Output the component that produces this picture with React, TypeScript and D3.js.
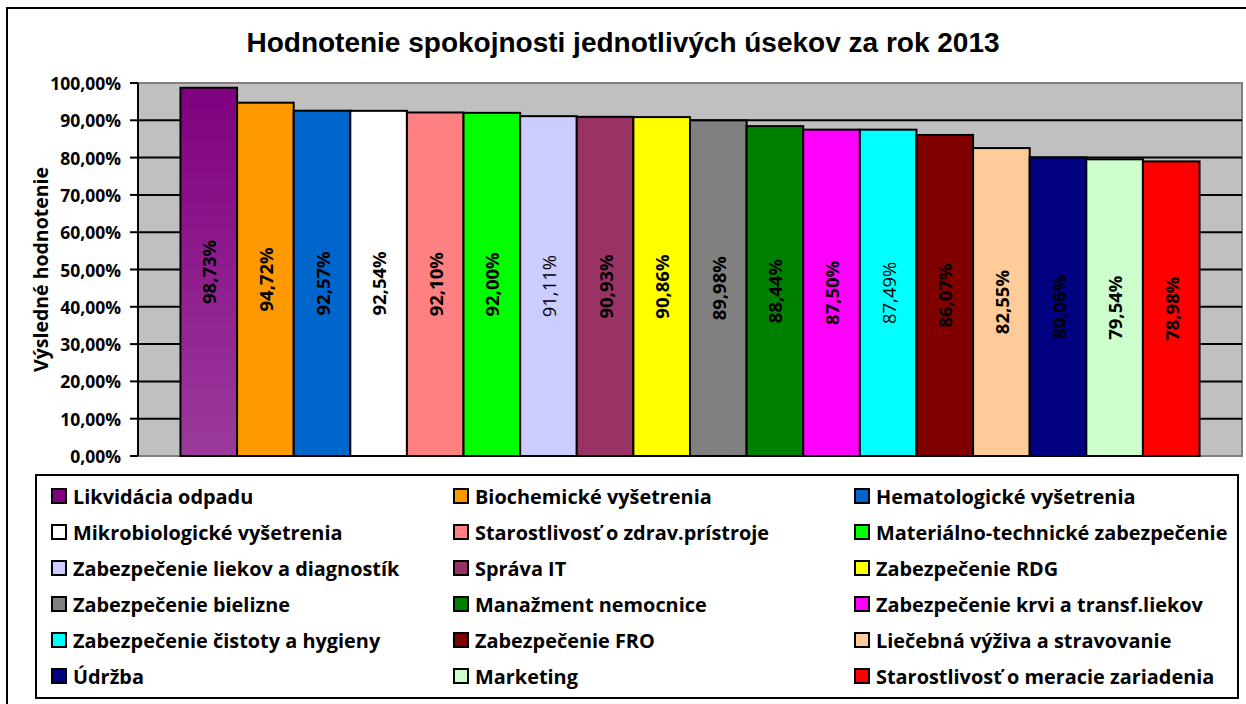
import React from 'react';
import * as d3 from 'd3';

const title = 'Hodnotenie spokojnosti jednotlivých úsekov za rok 2013';
const yAxisTitle = 'Výsledné hodnotenie';
const categories = [
  'Likvidácia odpadu',
  'Biochemické vyšetrenia',
  'Hematologické vyšetrenia',
  'Mikrobiologické vyšetrenia',
  'Starostlivosť o zdrav.prístroje',
  'Materiálno-technické zabezpečenie',
  'Zabezpečenie liekov a diagnostík',
  'Správa IT',
  'Zabezpečenie RDG',
  'Zabezpečenie bielizne',
  'Manažment nemocnice',
  'Zabezpečenie krvi a transf.liekov',
  'Zabezpečenie čistoty a hygieny',
  'Zabezpečenie FRO',
  'Liečebná výživa a stravovanie',
  'Údržba',
  'Marketing',
  'Starostlivosť o meracie zariadenia',
];
const values = [98.73, 94.72, 92.57, 92.54, 92.1, 92.0, 91.11, 90.93, 90.86, 89.98, 88.44, 87.5, 87.49, 86.07, 82.55, 80.06, 79.54, 78.98];
const colors = ['#800080', '#FF9900', '#0066CC', '#FFFFFF', '#FF8080', '#00FF00', '#CCCCFF', '#993366', '#FFFF00', '#808080', '#008000', '#FF00FF', '#00FFFF', '#800000', '#FFCC99', '#000080', '#CCFFCC', '#FF0000'];
const regularLabels = ['Zabezpečenie liekov a diagnostík', 'Zabezpečenie čistoty a hygieny'];
const yTicks = [0, 10, 20, 30, 40, 50, 60, 70, 80, 90, 100];

const FONT = '"Open Sans", "Noto Sans", sans-serif';

export default function App() {
  const W = 1246, H = 704;
  const left = 138, right = 1242, top = 83, bottom = 456;
  const y = d3.scaleLinear().domain([0, 100]).range([bottom, top]);
  const x0 = d3.scaleBand<string>().domain(['2013']).range([left, right]).paddingInner(0).paddingOuter(0.75 / 18);
  const x1 = d3.scaleBand<string>().domain(categories).range([0, x0.bandwidth()]);
  const base = x0('2013') as number;
  const fmt = (v: number) => d3.format('.2f')(v).replace('.', ',') + '%';

  const legendCols = [52, 454, 855];
  const legendRow0 = 496;
  const legendStep = 36;

  return (
    <svg width={W} height={H} style={{ position: 'absolute', left: 0, top: 0, display: 'block', background: '#fff' }}>
      <defs>
        <linearGradient id="g0" x1="0" y1="0" x2="0" y2="1">
          <stop offset="0" stopColor="#800080" />
          <stop offset="1" stopColor="#9C3A9C" />
        </linearGradient>
      </defs>
      <rect x={0} y={0} width={W} height={H} fill="#fff" />
      {/* outer frame */}
      <rect x={7} y={8} width={1245} height={710} fill="none" stroke="#000" strokeWidth={2} />

      {/* title */}
      <text x={623} y={52} textAnchor="middle" fontFamily='"Liberation Sans", Arial, sans-serif' fontWeight="bold" fontSize={28}>{title}</text>

      {/* plot area */}
      <rect x={left} y={top} width={right - left} height={bottom - top} fill="#C0C0C0" stroke="#808080" strokeWidth={2} />
      {yTicks.filter(t => t > 0 && t < 100).map(t => (
        <line key={'g' + t} x1={left} x2={right} y1={y(t)} y2={y(t)} stroke="#000" strokeWidth={2} />
      ))}

      {/* bars */}
      {categories.map((c, i) => {
        const bx = base + (x1(c) as number);
        const bw = x1.bandwidth();
        const by = y(values[i]);
        return (
          <rect key={'b' + i} x={bx} y={by} width={bw} height={y(0) - by} fill={i === 0 ? 'url(#g0)' : colors[i]} stroke="#000" strokeWidth={2} />
        );
      })}

      {/* data labels */}
      {categories.map((c, i) => {
        const cx = base + (x1(c) as number) + x1.bandwidth() / 2;
        const cy = (y(values[i]) + y(0)) / 2;
        return (
          <text key={'l' + i} transform={`translate(${cx},${cy}) rotate(-90)`} textAnchor="middle" dominantBaseline="central"
            fontFamily={FONT} fontSize={18.5} fontWeight={regularLabels.includes(c) ? 'normal' : 'bold'} fill="#000">
            {fmt(values[i])}
          </text>
        );
      })}

      {/* y axis */}
      <line x1={left} x2={left} y1={top} y2={bottom} stroke="#000" strokeWidth={2} />
      {yTicks.map(t => (
        <g key={'t' + t}>
          <line x1={left - 8} x2={left} y1={y(t)} y2={y(t)} stroke="#000" strokeWidth={2} />
          <text x={121} y={y(t)} textAnchor="end" dominantBaseline="central" fontFamily={FONT} fontWeight="bold" fontSize={17.5}>
            {d3.format('.2f')(t).replace('.', ',') + '%'}
          </text>
        </g>
      ))}
      <text transform={`translate(40,${(top + bottom) / 2}) rotate(-90)`} textAnchor="middle" dominantBaseline="central"
        fontFamily={FONT} fontWeight="bold" fontSize={19.5}>{yAxisTitle}</text>

      {/* legend */}
      <rect x={36} y={475} width={1202} height={223} fill="#fff" stroke="#000" strokeWidth={2} />
      {categories.map((c, i) => {
        const lx = legendCols[i % 3];
        const ly = legendRow0 + Math.floor(i / 3) * legendStep;
        return (
          <g key={'lg' + i}>
            <rect x={lx} y={ly - 7} width={14} height={14} fill={colors[i]} stroke="#000" strokeWidth={2} />
            <text x={lx + 21} y={ly} dominantBaseline="central" fontFamily={FONT} fontWeight="bold" fontSize={19.9}>{c}</text>
          </g>
        );
      })}
    </svg>
  );
}
